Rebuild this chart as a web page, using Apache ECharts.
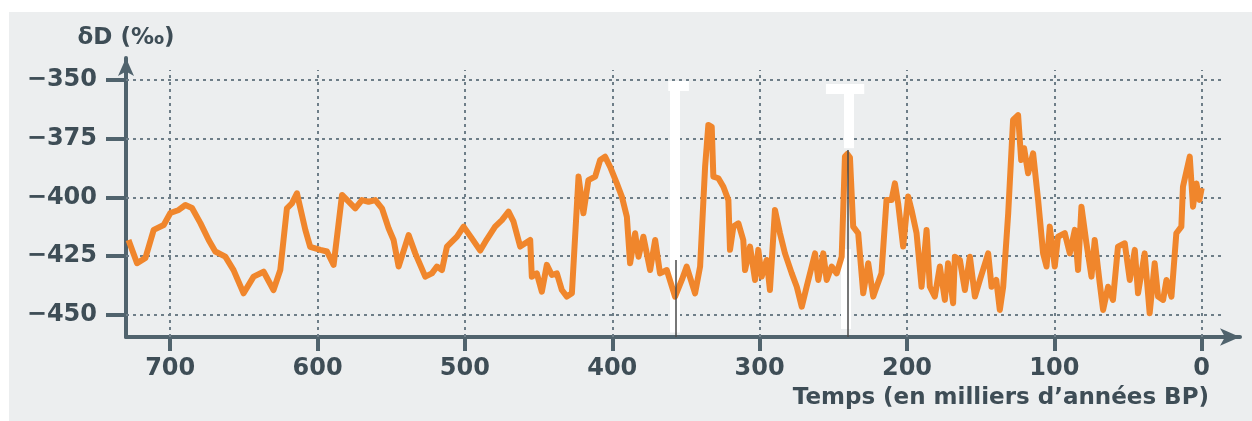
<!DOCTYPE html>
<html>
<head>
<meta charset="utf-8">
<script src="https://cdn.jsdelivr.net/npm/echarts@6/dist/echarts.min.js"></script>
<style>
html,body{margin:0;padding:0;background:#fff;}
#c{width:1252px;height:421px;}
</style>
</head>
<body>
<div id="c"></div>
<script>
// Age (thousands of years BP) and deltaD (per mil)
const ages = [
  728.3, 722.5, 716.8, 711.2, 704.4, 699.9, 694.2, 689.7, 685.2, 679.5,
  673.9, 669.4, 662.6, 657.0, 650.2, 643.4, 636.6, 629.9, 625.3, 620.8,
  617.4, 614.0, 608.3, 605.0, 598.1, 593.6, 589.1, 583.4, 574.4, 569.9,
  565.4, 560.8, 556.3, 551.8, 548.4, 545.0, 538.2, 533.7, 526.9, 522.4,
  519.0, 515.6, 512.2, 505.4, 500.9, 495.3, 489.6, 485.1, 479.5, 474.9,
  470.4, 467.0, 462.5, 455.7, 454.6, 451.2, 447.8, 444.4, 441.0, 437.6,
  434.2, 430.8, 427.4, 422.9, 419.6, 416.2, 411.6, 408.2, 404.9, 401.5,
  396.9, 393.5, 390.1, 387.9, 384.5, 382.2, 378.9, 374.3, 370.9, 367.6,
  363.0, 357.4, 352.8, 349.5, 343.8, 340.4, 337.0, 334.8, 332.5, 331.4,
  328.0, 324.6, 321.2, 320.1, 317.8, 314.4, 311.1, 309.9, 306.5, 303.1,
  300.9, 298.6, 295.2, 293.0, 289.6, 286.2, 282.8, 278.2, 274.8, 271.4,
  268.1, 262.4, 260.2, 256.8, 254.5, 251.1, 247.7, 244.3, 242.1, 240.5,
  238.7, 236.5, 233.1, 229.7, 226.3, 222.9, 220.6, 217.3, 213.9, 210.5,
  208.2, 206.0, 202.6, 199.2, 196.9, 193.5, 190.1, 186.7, 184.5, 181.1,
  177.7, 174.3, 172.1, 168.7, 167.5, 164.1, 160.7, 157.3, 153.9, 150.5,
  144.9, 142.6, 139.4, 137.0, 134.7, 131.3, 128.0, 124.6, 122.5, 120.5,
  117.8, 114.4, 111.0, 107.6, 105.3, 103.1, 99.7, 97.5, 92.9, 89.5,
  86.1, 83.9, 81.6, 78.2, 74.8, 72.6, 69.2, 66.9, 63.5, 60.2,
  56.8, 52.2, 48.8, 45.4, 43.2, 38.7, 35.3, 31.9, 29.6, 26.2,
  23.9, 20.5, 17.2, 13.8, 12.7, 8.1, 5.9, 3.6, 1.5, 0.0
];
const deltaD = [
  -418.1, -428.0, -425.7, -413.8, -411.7, -406.6, -405.3, -403.2, -404.5, -410.9,
  -418.1, -423.0, -425.2, -430.9, -440.8, -433.7, -431.6, -439.4, -430.9, -404.6,
  -402.5, -398.2, -413.8, -421.0, -422.3, -423.0, -428.7, -398.9, -404.6, -401.1,
  -401.8, -401.1, -404.6, -413.1, -418.1, -429.4, -416.0, -423.8, -433.7, -432.3,
  -429.4, -430.9, -420.9, -416.7, -412.4, -417.4, -422.6, -417.8, -412.4, -409.6,
  -406.0, -410.3, -420.9, -418.1, -433.7, -432.3, -440.1, -428.7, -433.0, -432.3,
  -439.4, -442.2, -440.8, -391.1, -406.7, -392.6, -391.1, -384.0, -382.6, -386.9,
  -394.0, -399.6, -408.2, -428.0, -415.2, -425.2, -416.7, -430.9, -418.1, -432.3,
  -430.9, -442.2, -435.1, -429.4, -440.8, -429.4, -386.9, -369.1, -369.9, -391.1,
  -391.8, -395.4, -401.1, -422.3, -412.4, -411.0, -418.1, -430.9, -420.9, -435.1,
  -422.3, -433.7, -426.6, -439.4, -405.3, -415.2, -423.8, -432.3, -438.0, -446.5,
  -438.0, -423.8, -435.1, -423.8, -435.1, -429.4, -432.3, -425.2, -382.6, -381.5,
  -383.0, -412.4, -415.2, -440.8, -428.0, -442.2, -438.0, -432.3, -401.1, -401.1,
  -394.0, -402.5, -420.9, -399.6, -405.3, -415.2, -438.0, -413.8, -438.0, -442.2,
  -429.4, -443.6, -428.0, -445.0, -425.2, -426.6, -439.4, -425.2, -442.2, -435.1,
  -423.8, -438.0, -435.1, -447.9, -438.0, -406.7, -367.0, -364.9, -384.0, -379.0,
  -389.7, -381.2, -401.1, -423.8, -429.4, -412.4, -429.4, -416.7, -415.2, -423.8,
  -413.8, -430.9, -403.9, -419.5, -433.7, -418.1, -436.5, -447.9, -438.0, -443.6,
  -420.9, -419.5, -435.1, -422.3, -440.8, -423.8, -449.3, -428.0, -442.2, -443.6,
  -435.1, -442.2, -415.2, -412.4, -395.4, -382.6, -403.9, -394.0, -401.0, -396.0
];
const xTicks = [700, 600, 500, 400, 300, 200, 100, 0];
const yTicks = [-450, -425, -400, -375, -350];
const xRange = [-26, 730];
const yRange = [-459.4, -340.6];
const gridXEnd = -14;      // right end of the horizontal dotted lines
const gridYTop = -345.7;   // top of the vertical dotted lines
// erased ("white-out") marks and thin dark markers on the scan
const eraseBars = [
  [[357.5, -351.0], [357.5, -457.5]],
  [[362.0, -352.5], [348.0, -352.5]],
  [[239.5, -353.0], [239.5, -379.0]],
  [[255.0, -353.5], [229.0, -353.5]],
  [[241.5, -422.0], [241.5, -456.0]]
];
const darkMarks = [
  [[356.8, -426.6], [356.8, -459.4]],
  [[240.1, -379.8], [240.1, -459.4]]
];

const ink = '#3e4d56';
const axisCol = '#50636d';
const gridCol = '#6e7e88';
const font = 'DejaVu Sans';

const record = ages.map((a, i) => [a, deltaD[i]]);

const gridLines = [];
yTicks.forEach(v => gridLines.push([{coord: [xRange[1], v]}, {coord: [gridXEnd, v]}]));
xTicks.forEach(v => gridLines.push([{coord: [v, yRange[0]]}, {coord: [v, gridYTop]}]));

const chart = echarts.init(document.getElementById('c'), null, {renderer: 'canvas'});
chart.setOption({
  backgroundColor: '#ffffff',
  animation: false,
  graphic: [{
    type: 'rect', left: 9, top: 12, z: -100,
    shape: {width: 1243, height: 409},
    style: {fill: '#eceeef'}
  }],
  title: {
    text: 'Temps (en milliers d\u2019ann\u00e9es BP)',
    right: 38, top: 382,
    textStyle: {fontFamily: font, fontSize: 23, fontWeight: 'bold', color: ink}
  },
  grid: {left: 126, right: 12, top: 58, bottom: 84, containLabel: false},
  xAxis: {
    type: 'value', inverse: true, min: xRange[0], max: xRange[1],
    axisLine: {show: true, onZero: false, symbol: ['none', 'arrow'], symbolSize: [13, 20],
      lineStyle: {color: axisCol, width: 4}},
    axisTick: {show: true, customValues: xTicks, length: 14, lineStyle: {color: axisCol, width: 4}},
    axisLabel: {customValues: xTicks, margin: 20, fontFamily: font, fontSize: 24, fontWeight: 'bold', color: ink},
    splitLine: {show: false}
  },
  yAxis: {
    type: 'value', min: yRange[0], max: yRange[1],
    name: '\u03b4D (\u2030)', nameLocation: 'end', nameGap: 8,
    nameTextStyle: {fontFamily: font, fontSize: 23, fontWeight: 'bold', color: ink, align: 'center'},
    axisLine: {show: true, onZero: false, symbol: ['none', 'arrow'], symbolSize: [12, 18],
      lineStyle: {color: axisCol, width: 4}},
    axisTick: {show: true, customValues: yTicks, length: 20, lineStyle: {color: axisCol, width: 4}},
    axisLabel: {customValues: yTicks, margin: 29, fontFamily: font, fontSize: 24, fontWeight: 'bold', color: ink,
      formatter: v => (v < 0 ? '\u2212' : '') + Math.abs(v)},
    splitLine: {show: false}
  },
  series: [
    {
      type: 'line', name: 'grid', data: [], z: 1, silent: true,
      markLine: {silent: true, symbol: 'none', z: 1, label: {show: false},
        lineStyle: {color: gridCol, width: 2, type: [3, 4]}, data: gridLines}
    },
    {
      type: 'line', name: 'erase', data: [], z: 2, silent: true,
      markLine: {silent: true, symbol: 'none', z: 2, label: {show: false},
        lineStyle: {color: '#ffffff', width: 10, type: 'solid'},
        data: eraseBars.map(s => [{coord: s[0]}, {coord: s[1]}])}
    },
    {
      type: 'line', name: 'dD', data: record, z: 10, showSymbol: false, symbol: 'none',
      lineStyle: {color: '#f0862c', width: 6, join: 'round'}
    },
    {
      type: 'line', name: 'marks', data: [], z: 12, silent: true,
      markLine: {silent: true, symbol: 'none', z: 12, label: {show: false},
        lineStyle: {color: '#4a4a4a', width: 1.5, type: 'solid'},
        data: darkMarks.map(s => [{coord: s[0]}, {coord: s[1]}])}
    }
  ]
});
</script>
</body>
</html>
